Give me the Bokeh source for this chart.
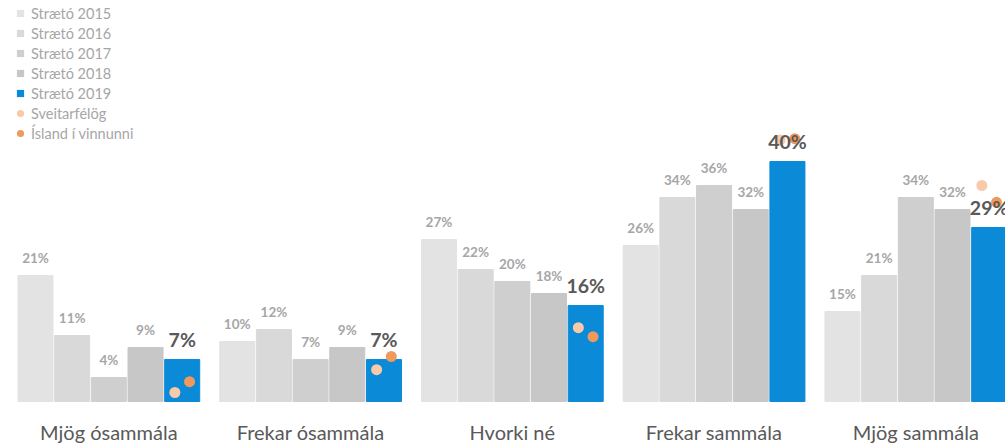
from bokeh.plotting import figure
from bokeh.models import ColumnDataSource, Range1d, Legend, LegendItem
from bokeh.core.properties import value
from bokeh.embed import file_html
from bokeh.resources import INLINE

categories = ["Mjög ósammála", "Frekar ósammála", "Hvorki né", "Frekar sammála", "Mjög sammála"]
series_names = ["Strætó 2015", "Strætó 2016", "Strætó 2017", "Strætó 2018", "Strætó 2019"]
s2015 = [21, 10, 27, 26, 15]
s2016 = [11, 12, 22, 34, 21]
s2017 = [4, 7, 20, 36, 34]
s2018 = [9, 9, 18, 32, 32]
s2019 = [7, 7, 16, 40, 29]
sveitarfelog = [1.5, 5.3, 12.3, 43.6, 36.0]
island = [3.3, 7.5, 10.8, 43.8, 33.2]

series_values = [s2015, s2016, s2017, s2018, s2019]
bar_colors = ["#e3e3e3", "#d9d9d9", "#cfcfcf", "#c7c7c7", "#0b8ad8"]
sveit_color = "#f8caa9"
island_color = "#f0995c"

STEP = 5.5   # group pitch in bar units
PX = 36.68   # pixels per bar unit
FONT = value("Lato")
W, H = 1005, 443

p = figure(width=W, height=H, output_backend="svg", toolbar_location=None,
           x_range=Range1d(-0.954, -0.954 + W / PX), y_range=Range1d(-7.0, 66.83),
           min_border_left=0, min_border_right=0, min_border_top=0, min_border_bottom=0)
p.outline_line_color = None
p.grid.visible = False
p.axis.visible = False
p.background_fill_color = "white"
p.border_fill_color = "white"

ng = len(categories)
for j, vals in enumerate(series_values):
    xs = [g * STEP + j for g in range(ng)]
    src = ColumnDataSource(dict(x=xs, top=vals))
    p.vbar(x="x", top="top", bottom=0, width=0.955, color=bar_colors[j], source=src)

# benchmark dots
cx = [g * STEP + 4 for g in range(ng)]
p.scatter(x=[c - 0.2 for c in cx], y=sveitarfelog, size=11, color=sveit_color, line_color=None)
p.scatter(x=[c + 0.2 for c in cx], y=island, size=11, color=island_color, line_color=None)

# data labels
for j, vals in enumerate(series_values):
    xs = [g * STEP + j for g in range(ng)]
    src = ColumnDataSource(dict(x=xs, y=vals, lab=[f"{v}%" for v in vals]))
    if j < 4:
        p.text(x="x", y="y", text="lab", source=src, text_font=FONT, text_font_size="13.5px",
               text_font_style="bold", text_color="#a6a6a6", text_align="center",
               text_baseline="middle", y_offset=-17)
    else:
        p.text(x="x", y="y", text="lab", source=src, text_font=FONT, text_font_size="19.5px",
               text_font_style="bold", text_color="#595959", text_align="center",
               text_baseline="middle", y_offset=-20)

# category labels
centers = [g * STEP + 2 for g in range(ng)]
csrc = ColumnDataSource(dict(x=centers, y=[0] * ng, lab=categories))
p.text(x="x", y="y", text="lab", source=csrc, text_font=FONT, text_font_size="20px",
       text_color="#595959", text_align="center", text_baseline="alphabetic", y_offset=31)

# legend via proxy renderers placed outside the visible range
items = []
for name, col in zip(series_names, bar_colors):
    r = p.scatter(x=[-50], y=[-50], marker="square", color=col, line_color=None)
    items.append(LegendItem(label=name, renderers=[r]))
r = p.scatter(x=[-50], y=[-50], marker="circle", color=sveit_color, line_color=None)
items.append(LegendItem(label="Sveitarfélög", renderers=[r]))
r = p.scatter(x=[-50], y=[-50], marker="circle", color=island_color, line_color=None)
items.append(LegendItem(label="Ísland í vinnunni", renderers=[r]))

n_items = len(items)
leg_h = n_items * 18 + (n_items - 1) * 2
legend = Legend(items=items, location=(11, H - 4 - leg_h), margin=0, padding=0,
                glyph_width=18, glyph_height=18, label_height=18, spacing=2,
                label_standoff=2, label_text_font="Lato", label_text_font_size="14.5px",
                label_text_color="#a6a6a6", border_line_color=None,
                background_fill_alpha=0)
p.add_layout(legend, "center")

open("out.html", "w").write(file_html(p, INLINE))
